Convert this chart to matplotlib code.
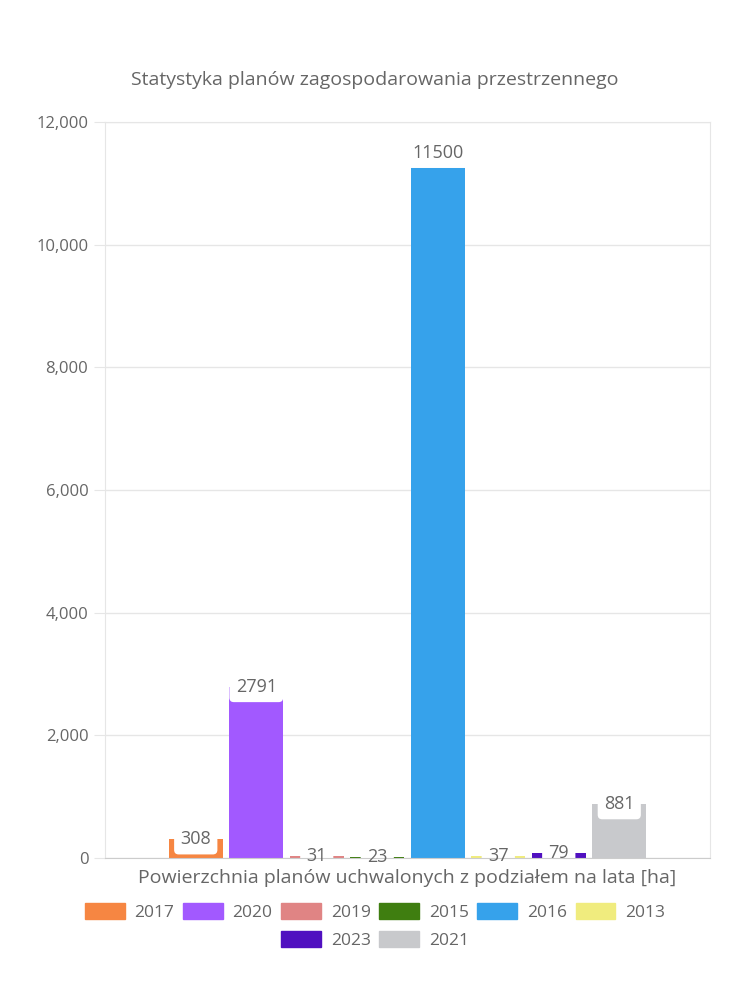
import matplotlib.pyplot as plt
from matplotlib.patches import Patch

# data
years = ["2017", "2020", "2019", "2015", "2016", "2013", "2023", "2021"]
values = [308, 2791, 31, 23, 11500, 37, 79, 881]
colors = ["#F68642", "#A259FF", "#E08484", "#3F7E10", "#36A2EB", "#F0EC7E", "#5010C0", "#C8C9CC"]
yticks = [0, 2000, 4000, 6000, 8000, 10000, 12000]

title = "Statystyka planów zagospodarowania przestrzennego"
xlabel = "Powierzchnia planów uchwalonych z podziałem na lata [ha]"

plt.rcParams['font.family'] = ['Open Sans', 'DejaVu Sans']
txt_col = "#666666"
grid_col = "#e6e6e6"

fig = plt.figure(figsize=(7.5, 10), dpi=100)
ax = fig.add_axes([0.14, 0.142, 0.8067, 0.736])

n = len(values)
step = 0.8 / n
width = step * 0.9
box = dict(boxstyle='round,pad=0.35,rounding_size=0.25', fc='white', ec='none')
for i, (y, v, c) in enumerate(zip(years, values, colors)):
    x = (i - (n - 1) / 2) * step
    ax.bar(x, v, width=width, color=c, zorder=2)
    # white label box, clipped to the plot area
    ax.text(x, v, str(v), ha='center', va='center', fontsize=13, color='none', zorder=2.1,
            clip_on=True, bbox=box)
    # label text itself, not clipped
    ax.text(x, v, str(v), ha='center', va='center', fontsize=13, color=txt_col, zorder=3)

ax.set_xlim(-0.5, 0.5)
ax.set_ylim(0, 12000)
ax.set_yticks(yticks)
ax.set_yticklabels([f"{t:,}" for t in yticks])
ax.set_xticks([])
ax.tick_params(axis='y', length=8, color=grid_col, labelcolor=txt_col, labelsize=12, pad=4)
ax.grid(axis='y', color=grid_col, linewidth=1, zorder=0)
for s in ['left', 'right', 'top']:
    ax.spines[s].set_color(grid_col)
ax.spines['bottom'].set_color("#cccccc")
ax.set_axisbelow(True)

ax.set_xlabel(xlabel, fontsize=14, color=txt_col, labelpad=8)
fig.text(0.5, 0.92, title, ha='center', va='center', fontsize=14, color=txt_col)

handles = [Patch(color=c, label=y) for y, c in zip(years, colors)]
fig.legend(handles=handles[:6], loc='center', bbox_to_anchor=(0.5, 0.088), ncol=6,
           frameon=False, fontsize=12.5, handlelength=2.3, handleheight=1.0,
           handletextpad=0.55, columnspacing=0.5, labelcolor=txt_col)
fig.legend(handles=handles[6:], loc='center', bbox_to_anchor=(0.5, 0.06), ncol=2,
           frameon=False, fontsize=12.5, handlelength=2.3, handleheight=1.0,
           handletextpad=0.55, columnspacing=0.5, labelcolor=txt_col)

fig.savefig("out.png", dpi=100, facecolor='white')
